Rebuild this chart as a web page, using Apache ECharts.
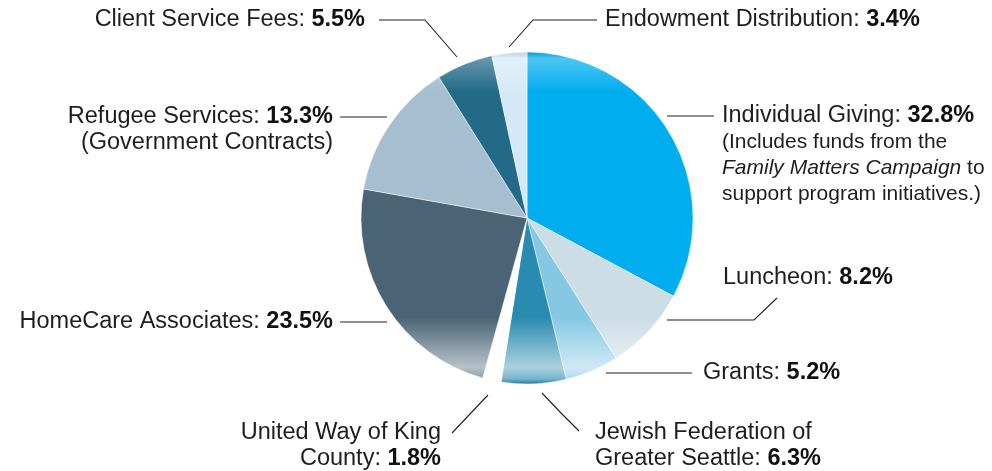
<!DOCTYPE html>
<html>
<head>
<meta charset="utf-8">
<script src="https://cdn.jsdelivr.net/npm/echarts@6/dist/echarts.min.js"></script>
<style>
html,body{margin:0;padding:0;background:#fff;}
#chart{width:992px;height:471px;}
</style>
</head>
<body>
<div id="chart"></div>
<script>
// ---- data ----
const categories = [
  'Individual Giving', 'Luncheon', 'Grants', 'Jewish Federation of Greater Seattle',
  'United Way of King County', 'HomeCare Associates', 'Refugee Services',
  'Client Service Fees', 'Endowment Distribution'
];
const values = [32.8, 8.2, 5.2, 6.3, 1.8, 23.5, 13.3, 5.5, 3.4];
const colors = ['#00ADEE', '#CCDDE6', '#86C7E3', '#2A8BB0', '#FFFFFF', '#4A6475', '#A5BED0', '#226A88', '#D4E9F7'];
// label text lines (the percentage is appended to the name line)
const labelHead = [
  'Individual Giving: ', 'Luncheon: ', 'Grants: ', 'Greater Seattle: ',
  'County: ', 'HomeCare Associates: ', 'Refugee Services: ',
  'Client Service Fees: ', 'Endowment Distribution: '
];
const labelPre = ['', '', '', 'Jewish Federation of', 'United Way of King', '', '', '', ''];
const labelPost = [
  ['(Includes funds from the', '{si|Family Matters Campaign}{s| to}', 'support program initiatives.)'],
  [], [], [], [], [], ['(Government Contracts)'], [], []
];

// ---- layout (positions of label anchors / leader lines) ----
const layout = [
  {x: 722, y: 103, align: 'left',  va: 'top',    line: [[667,116],[690,116],[714,116]]},
  {x: 723, y: 278, align: 'left',  va: 'middle', line: [[667,320],[754,320],[777,298]]},
  {x: 703, y: 373, align: 'left',  va: 'middle', line: [[606,373],[650,373],[692,373]]},
  {x: 595, y: 420, align: 'left',  va: 'top',    line: [[542,393],[560,412],[579,431]]},
  {x: 441, y: 420, align: 'right', va: 'top',    line: [[488,395],[470,414],[452,433]]},
  {x: 333, y: 322, align: 'right', va: 'middle', line: [[387,322],[363,322],[340,322]]},
  {x: 333, y: 104, align: 'right', va: 'top',    line: [[387,117],[363,117],[340,117]]},
  {x: 365, y: 20,  align: 'right', va: 'middle', line: [[457,57],[425,20],[379,20]]},
  {x: 605, y: 20,  align: 'left',  va: 'middle', line: [[509,47],[533,20],[597,20]]}
];

function mix(hex, t) { // t>0 toward white, t<0 toward black
  const n = parseInt(hex.slice(1), 16);
  let r = (n >> 16) & 255, g = (n >> 8) & 255, b = n & 255;
  const tgt = t >= 0 ? 255 : 0, k = Math.abs(t);
  r = Math.round(r + (tgt - r) * k); g = Math.round(g + (tgt - g) * k); b = Math.round(b + (tgt - b) * k);
  return 'rgb(' + r + ',' + g + ',' + b + ')';
}

const CX = 527, CY = 218, R = 166;
function gloss(c) {
  return new echarts.graphic.LinearGradient(0, CY - R, 0, CY + R, [
    {offset: 0, color: mix(c, -0.1)},
    {offset: 0.02, color: mix(c, 0.3)},
    {offset: 0.12, color: c},
    {offset: 0.8, color: c},
    {offset: 0.95, color: mix(c, 0.6)},
    {offset: 0.985, color: mix(c, 0.35)},
    {offset: 1, color: mix(c, -0.15)}
  ], true);
}

const data = categories.map((name, i) => ({
  name: name,
  value: values[i],
  itemStyle: {color: gloss(colors[i])}
}));

const FONT = '"Liberation Sans", Arial, Helvetica, sans-serif';
const rich = {
  n: {fontFamily: FONT, fontSize: 23.5, color: '#1e1e1e', lineHeight: 26},
  b: {fontFamily: FONT, fontSize: 23.5, color: '#111', fontWeight: 'bold', lineHeight: 26},
  s: {fontFamily: FONT, fontSize: 21, color: '#1e1e1e', lineHeight: 26},
  si: {fontFamily: FONT, fontSize: 21, color: '#1e1e1e', fontStyle: 'italic', lineHeight: 26}
};

const chart = echarts.init(document.getElementById('chart'), null, {renderer: 'canvas'});
chart.setOption({
  animation: false,
  backgroundColor: '#fff',
  series: [{
    type: 'pie',
    center: [CX, CY],
    radius: R,
    startAngle: 90,
    clockwise: true,
    data: data,
    itemStyle: {borderColor: 'rgba(255,255,255,0.6)', borderWidth: 0.8},
    emphasis: {disabled: true},
    label: {
      show: true,
      position: 'outer',
      rich: rich,
      formatter: function (p) {
        const i = p.dataIndex;
        const lines = [];
        if (labelPre[i]) lines.push('{n|' + labelPre[i] + '}');
        lines.push('{n|' + labelHead[i] + '}{b|' + values[i].toFixed(1) + '%}');
        labelPost[i].forEach(function (t) {
          lines.push(t.indexOf('{') === 0 ? t : '{' + (i === 0 ? 's' : 'n') + '|' + t + '}');
        });
        return lines.join('\n');
      }
    },
    labelLine: {show: true, lineStyle: {color: '#222', width: 1.1}},
    labelLayout: function (params) {
      const L = layout[params.dataIndex];
      return {
        x: L.x, y: L.y, align: L.align, verticalAlign: L.va,
        labelLinePoints: L.line
      };
    }
  }]
});
</script>
</body>
</html>
